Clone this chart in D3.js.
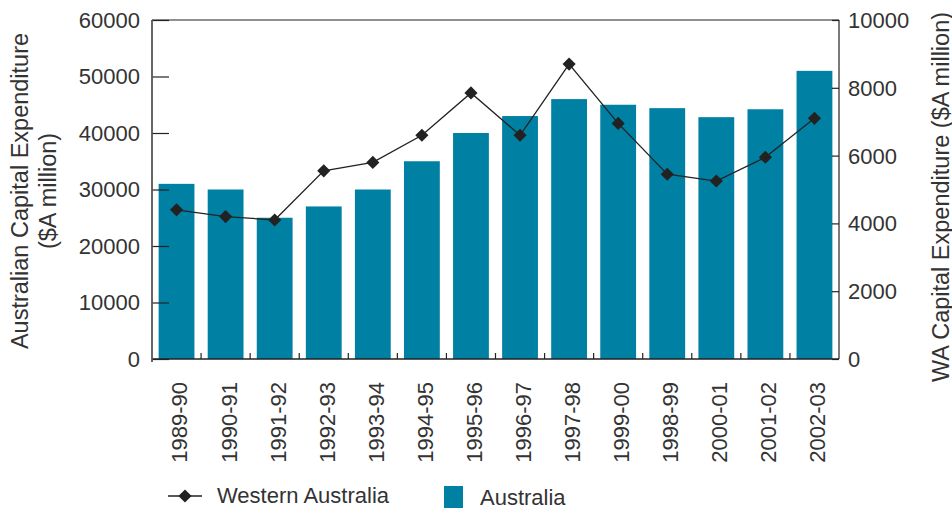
<!DOCTYPE html>
<html>
<head>
<meta charset="utf-8">
<script src="https://cdn.jsdelivr.net/npm/d3@7"></script>
<style>
  body { margin: 0; background: #fff; }
  text { font-family: 'Liberation Sans', Arial, sans-serif; fill: #333; }
</style>
</head>
<body>
<script>
// data
var years = ['1989-90', '1990-91', '1991-92', '1992-93', '1993-94', '1994-95', '1995-96',
  '1996-97', '1997-98', '1999-00', '1998-99', '2000-01', '2001-02', '2002-03'];
var australia = [31000, 30000, 25000, 27000, 30000, 35000, 40000, 43000, 46000, 45000, 44400, 42800, 44200, 51000];
var westernAustralia = [4400, 4200, 4100, 5550, 5800, 6600, 7850, 6600, 8700, 6950, 5450, 5250, 5950, 7100];
var leftTicks = [0, 10000, 20000, 30000, 40000, 50000, 60000];
var rightTicks = [0, 2000, 4000, 6000, 8000, 10000];

var W = 952, H = 508;
var x0 = 152, x1 = 839, yTop = 20, yBot = 359;
var fs = 22;     // tick + legend text
var fsTitle = 23.5;
var ink = '#222';
var teal = '#0080a3';

var svg = d3.select('body').append('svg')
  .attr('width', W)
  .attr('height', H);

var xScale = d3.scaleBand().domain(years).range([x0, x1]).paddingInner(0.27).paddingOuter(0.135);
var yLeft = d3.scaleLinear().domain([0, 60000]).range([yBot, yTop]);
var yRight = d3.scaleLinear().domain([0, 10000]).range([yBot, yTop]);

// bars
svg.append('g').selectAll('rect')
  .data(australia)
  .join('rect')
  .attr('x', function(d, i) { return xScale(years[i]); })
  .attr('y', function(d) { return yLeft(d); })
  .attr('width', xScale.bandwidth())
  .attr('height', function(d) { return yBot - yLeft(d); })
  .attr('fill', teal);

// frame: top line + bottom line
svg.append('line').attr('x1', x0).attr('x2', x1).attr('y1', yTop).attr('y2', yTop)
  .attr('stroke', ink).attr('stroke-width', 1.2);
svg.append('line').attr('x1', x0).attr('x2', x1).attr('y1', yBot).attr('y2', yBot)
  .attr('stroke', ink).attr('stroke-width', 1.5);

// left axis, ticks inward
var leftAxis = svg.append('g')
  .attr('transform', `translate(${x0},0)`)
  .call(d3.axisRight(yLeft).tickValues(leftTicks).tickSize(17).tickFormat(''));
leftAxis.select('.domain').remove();
leftAxis.selectAll('line').attr('stroke', ink).attr('stroke-width', 1.2);
svg.append('line').attr('x1', x0).attr('x2', x0).attr('y1', yTop).attr('y2', yBot + 3)
  .attr('stroke', '#555').attr('stroke-width', 1.8);

svg.append('g').selectAll('text')
  .data(leftTicks)
  .join('text')
  .attr('x', x0 - 12)
  .attr('y', function(d) { return yLeft(d); })
  .attr('dy', '0.36em')
  .attr('text-anchor', 'end')
  .style('font-size', fs + 'px')
  .text(function(d) { return d; });

// right axis, ticks inward
var rightAxis = svg.append('g')
  .attr('transform', `translate(${x1},0)`)
  .call(d3.axisLeft(yRight).tickValues(rightTicks).tickSize(7).tickFormat(''));
rightAxis.select('.domain').remove();
rightAxis.selectAll('line').attr('stroke', ink).attr('stroke-width', 1.2);
svg.append('line').attr('x1', x1).attr('x2', x1).attr('y1', yTop).attr('y2', yBot)
  .attr('stroke', ink).attr('stroke-width', 1.2);

svg.append('g').selectAll('text')
  .data(rightTicks)
  .join('text')
  .attr('x', x1 + 9)
  .attr('y', function(d) { return yRight(d); })
  .attr('dy', '0.36em')
  .style('font-size', fs + 'px')
  .text(function(d) { return d; });

// category boundary ticks on the x axis
var step = xScale.step();
svg.append('g').selectAll('line')
  .data(years.slice(1))
  .join('line')
  .attr('x1', function(d) { return xScale(d) - (step - xScale.bandwidth()) / 2; })
  .attr('x2', function(d) { return xScale(d) - (step - xScale.bandwidth()) / 2; })
  .attr('y1', yBot)
  .attr('y2', yBot - 6)
  .attr('stroke', ink)
  .attr('stroke-width', 1.2);

// rotated category labels
svg.append('g').selectAll('text')
  .data(years)
  .join('text')
  .attr('transform', function(d) {
    return `translate(${xScale(d) + xScale.bandwidth() / 2 + 3}, 382) rotate(-90)`;
  })
  .attr('dy', '0.36em')
  .attr('text-anchor', 'end')
  .style('font-size', fs + 'px')
  .text(function(d) { return d; });

// WA line
var cx = function(d, i) { return xScale(years[i]) + xScale.bandwidth() / 2; };
var line = d3.line()
  .x(cx)
  .y(function(d) { return yRight(d); });

svg.append('path')
  .datum(westernAustralia)
  .attr('d', line)
  .attr('fill', 'none')
  .attr('stroke', ink)
  .attr('stroke-width', 1.3);

var diamond = d3.symbol().type(d3.symbolDiamond2).size(110);
svg.append('g').selectAll('path')
  .data(westernAustralia)
  .join('path')
  .attr('transform', function(d, i) { return `translate(${cx(d, i)},${yRight(d)})`; })
  .attr('d', diamond)
  .attr('fill', ink);

// axis titles
svg.append('text')
  .attr('transform', 'translate(20,191) rotate(-90)')
  .attr('dy', '0.36em')
  .attr('text-anchor', 'middle')
  .style('font-size', fsTitle + 'px')
  .text('Australian Capital Expenditure');
svg.append('text')
  .attr('transform', 'translate(48,191) rotate(-90)')
  .attr('dy', '0.36em')
  .attr('text-anchor', 'middle')
  .style('font-size', fsTitle + 'px')
  .text('($A million)');
svg.append('text')
  .attr('transform', 'translate(941,197) rotate(-90)')
  .attr('dy', '0.36em')
  .attr('text-anchor', 'middle')
  .style('font-size', fsTitle + 'px')
  .text('WA Capital Expenditure ($A million)');

// legend
svg.append('line').attr('x1', 168).attr('x2', 202).attr('y1', 496).attr('y2', 496)
  .attr('stroke', ink).attr('stroke-width', 1.3);
svg.append('path').attr('transform', 'translate(185,496)').attr('d', diamond).attr('fill', ink);
svg.append('text').attr('x', 217).attr('y', 495).attr('dy', '0.36em')
  .style('font-size', fs + 'px').text('Western Australia');
svg.append('rect').attr('x', 444).attr('y', 486).attr('width', 19).attr('height', 22).attr('fill', teal);
svg.append('text').attr('x', 480).attr('y', 497).attr('dy', '0.36em')
  .style('font-size', fs + 'px').text('Australia');
</script>
</body>
</html>
